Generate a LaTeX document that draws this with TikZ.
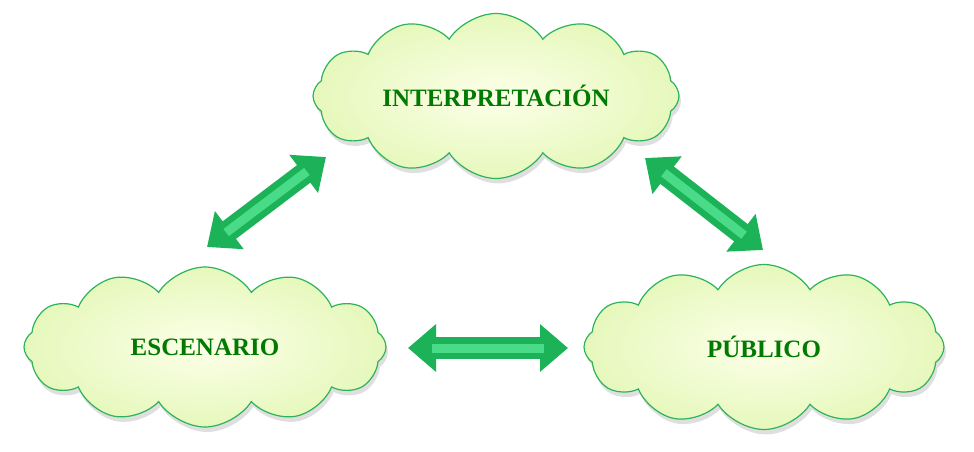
\documentclass[tikz,border=0pt]{standalone}
\usepackage{fontspec}
\setmainfont{Liberation Serif}
\usepackage{tikz}
\usetikzlibrary{arrows.meta,shapes.symbols,shadows}

\definecolor{nubeborde}{HTML}{2DB35A}
\definecolor{nubein}{HTML}{FCFFE8}
\definecolor{nubeout}{HTML}{E6F8BC}
\definecolor{textoverde}{HTML}{007A00}
\definecolor{flechaverde}{HTML}{1BB258}
\definecolor{flechaluz}{HTML}{4ADB88}

\begin{document}
\begin{tikzpicture}[x=1pt,y=-1pt,
  nube/.style={cloud,cloud puffs=12,cloud puff arc=115,cloud ignores aspect,
    draw=nubeborde,line width=1.2pt,inner color=nubein,outer color=nubeout,
    drop shadow={opacity=0.25,shadow xshift=2pt,shadow yshift=-5pt},
    font=\fontsize{25}{30}\selectfont\bfseries,text=textoverde,inner sep=0pt},
  flecha/.style={flechaverde,line width=22pt,
    {Triangle[width=46pt,length=28pt]}-{Triangle[width=46pt,length=28pt]}},
  brillo/.style={flechaluz,line width=9pt,shorten <=24pt,shorten >=24pt}]
  \useasboundingbox (0,0) rectangle (974,452);
  \node[nube,minimum width=366pt,minimum height=165pt] (interp) at (496,96) {INTERPRETACIÓN};
  \node[nube,minimum width=362pt,minimum height=160pt] (escen) at (205,347) {ESCENARIO};
  \node[nube,minimum width=360pt,minimum height=165pt] (publ) at (764,347) {PÚBLICO};
  % extremos de las flechas
  \coordinate (il) at (326,157);
  \coordinate (el) at (207,247);
  \coordinate (ir) at (645,158);
  \coordinate (pr) at (763,250);
  \coordinate (eh) at (408,348);
  \coordinate (ph) at (568,348);
  \draw[flecha] (el) -- (il);
  \draw[brillo] (el) -- (il);
  \draw[flecha] (ir) -- (pr);
  \draw[brillo] (ir) -- (pr);
  \draw[flecha] (eh) -- (ph);
  \draw[brillo] (eh) -- (ph);
\end{tikzpicture}
\end{document}
